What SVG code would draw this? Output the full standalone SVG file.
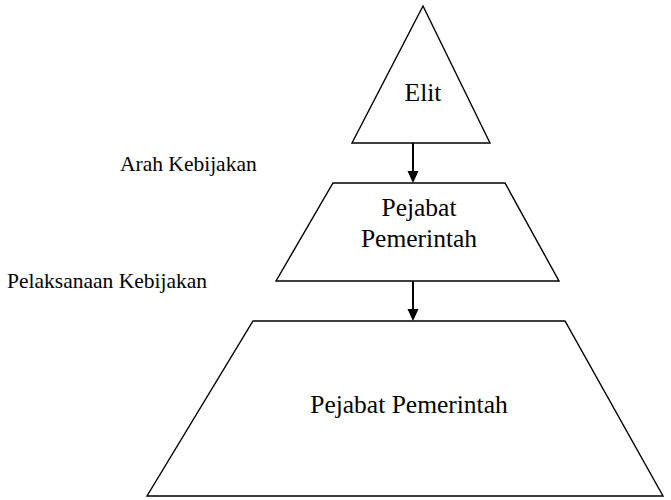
<svg xmlns="http://www.w3.org/2000/svg" width="671" height="500" viewBox="0 0 671 500">
<style>
.shape{fill:#fff;stroke:#000;stroke-width:1.4;stroke-linejoin:miter}
.node{font-family:"Liberation Serif","Times New Roman",serif;font-size:25.5px;fill:#000;text-anchor:middle}
.lbl{font-family:"Liberation Serif","Times New Roman",serif;font-size:21.5px;fill:#000}
.conn{stroke:#000;stroke-width:2;fill:none}
</style>
<defs>
<marker id="ah" markerWidth="10" markerHeight="11" refX="5" refY="11" orient="auto-start-reverse" markerUnits="userSpaceOnUse" viewBox="0 0 10 11">
<path d="M0,0 L10,0 L5,11 Z" fill="#000"/>
</marker>
</defs>
<rect width="671" height="500" fill="#fff"/>
<g id="elit">
<polygon class="shape" points="423,6 490,143 352,143"/>
<text class="node" x="423" y="101">Elit</text>
</g>
<g id="pejabat1">
<polygon class="shape" points="333,183 505,183 559,281 276,281"/>
<text class="node" x="419" y="216">Pejabat</text>
<text class="node" x="419" y="247">Pemerintah</text>
</g>
<g id="pejabat2">
<polygon class="shape" points="253,321 565,321 663,496 147,496"/>
<text class="node" x="409" y="413">Pejabat Pemerintah</text>
</g>
<g id="connectors">
<line class="conn" x1="413" y1="143" x2="413" y2="172"/>
<path d="M407.5,171 L418.5,171 L413,183 Z" fill="#000"/>
<line class="conn" x1="413" y1="281" x2="413" y2="310"/>
<path d="M407.5,309 L418.5,309 L413,321 Z" fill="#000"/>
</g>
<g id="labels">
<text class="lbl" x="120" y="171">Arah Kebijakan</text>
<text class="lbl" x="7" y="288">Pelaksanaan Kebijakan</text>
</g>
</svg>
